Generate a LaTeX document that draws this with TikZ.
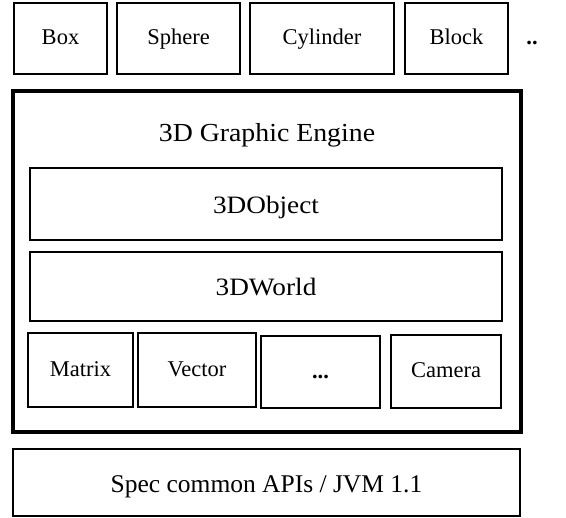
\documentclass[tikz,border=0pt]{standalone}
\usepackage{fontspec}
\setmainfont{Liberation Serif}
\newfontfamily\widefont[FakeStretch=1.09]{Liberation Serif}
\newfontfamily\titlefont[FakeStretch=1.07]{Liberation Serif}
\begin{document}
\begin{tikzpicture}[x=1pt,y=-1pt,
  tx/.style={inner sep=0pt, text height=16.5pt, text depth=3.5pt},
  bx/.style={tx, draw, line width=1.6pt, font=\fontsize{22.5}{26}\selectfont},
  wbx/.style={draw, line width=1.6pt, inner sep=0pt, text height=19.5pt, text depth=0.5pt,
    font=\widefont\fontsize{25}{29}\selectfont},
  thick box/.style={draw, line width=4pt, inner sep=0pt}]
\useasboundingbox (0,0) rectangle (566,518);
% top row
\node[bx, minimum width=93pt, minimum height=71pt] (box) at (60.5,38.5) {Box};
\node[bx, minimum width=123pt, minimum height=71pt] (sphere) at (178.5,38.5) {Sphere};
\node[bx, minimum width=144pt, minimum height=71pt] (cyl) at (322,38.5) {Cylinder};
\node[bx, minimum width=103pt, minimum height=71pt] (block) at (456.5,38.5) {Block};
\node[tx, font=\fontsize{22.5}{26}\selectfont\bfseries] (dots) at (532,38.5) {..};
% engine
\node[thick box, minimum width=508pt, minimum height=341pt] (engine) at (267,261.5) {};
\node[inner sep=0pt, anchor=base, font=\titlefont\fontsize{26}{30}\selectfont] (title) at (267,142) {3D Graphic Engine};
\node[wbx, minimum width=472pt, minimum height=72pt] (obj) at (266,204) {3DObject};
\node[wbx, minimum width=472pt, minimum height=69pt] (world) at (266,286.5) {3DWorld};
\node[bx, minimum width=105pt, minimum height=74pt] (matrix) at (80.5,370) {Matrix};
\node[bx, minimum width=118pt, minimum height=74pt] (vector) at (197,370) {Vector};
\node[bx, minimum width=119pt, minimum height=72pt, font=\fontsize{22.5}{26}\selectfont\bfseries] (etc) at (320.5,372) {...};
\node[bx, minimum width=110pt, minimum height=73pt] (camera) at (446,371.5) {Camera};
% base
\node[draw, line width=1.6pt, inner sep=0pt, text height=21pt, text depth=0pt,
  minimum width=507pt, minimum height=67pt,
  font=\fontsize{25.5}{29}\selectfont] (spec) at (266.5,482.5) {Spec common APIs / JVM 1.1};
\end{tikzpicture}
\end{document}
